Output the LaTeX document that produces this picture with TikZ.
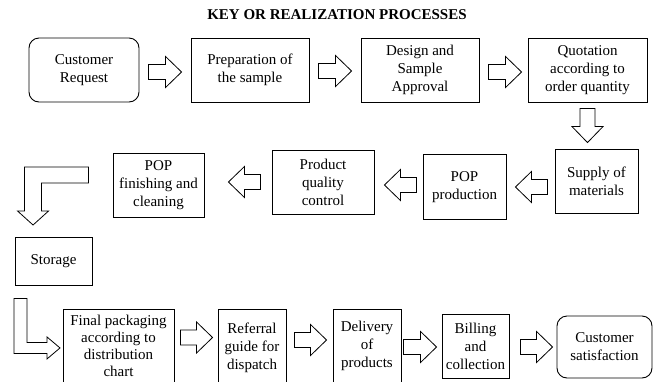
\documentclass[tikz,border=0pt]{standalone}
\usepackage{fontspec}
\setmainfont{Liberation Serif}
\usetikzlibrary{positioning,calc}

\begin{document}
\begin{tikzpicture}[x=1pt, y=1pt,
        box/.style={draw, rectangle, line width=0.9pt, align=center, inner sep=2pt, font=\fontsize{15}{18}\selectfont},
        endbox/.style={box, rounded corners=10pt},
        fatline/.style={draw, line width=0.8pt, line join=miter},
        fat/.style={fatline, to path={let \p1=(\tikztostart), \p2=(\tikztotarget), \p3=($(\p2)-(\p1)$),
            \n1={atan2(\y3,\x3)} in
            ($(\p1)+({\n1+90}:7.5pt)$)
            -- ($(\p2)+({\n1+180}:16pt)+({\n1+90}:7.5pt)$)
            -- ($(\p2)+({\n1+180}:16pt)+({\n1+90}:15.5pt)$)
            -- (\p2)
            -- ($(\p2)+({\n1+180}:16pt)+({\n1-90}:15.5pt)$)
            -- ($(\p2)+({\n1+180}:16pt)+({\n1-90}:7.5pt)$)
            -- ($(\p1)+({\n1-90}:7.5pt)$) -- cycle}}
    ]
        \useasboundingbox (0,0) rectangle (657,-381);
        \clip (0,0) rectangle (657,-381);

        \node [font=\fontsize{15}{18}\selectfont\bfseries] (title) at (337,-15) {KEY OR REALIZATION PROCESSES};

        \node [endbox, minimum width=110pt, minimum height=64pt] (req) at (84,-70) {Customer\\Request};
        \node [box, minimum width=118pt, minimum height=64pt] (prep) at (250,-70) {Preparation of\\the sample};
        \node [box, minimum width=118pt, minimum height=64pt] (design) at (420,-70) {Design and\\Sample\\Approval};
        \node [box, minimum width=119pt, minimum height=64pt] (quote) at (587.5,-70) {Quotation\\according to\\order quantity};
        \node [box, minimum width=83pt, minimum height=64pt] (supply) at (596.5,-181) {Supply of\\materials};
        \node [box, minimum width=83pt, minimum height=65pt] (popprod) at (464.5,-187) {POP\\production};
        \node [box, minimum width=102pt, minimum height=64pt] (quality) at (323,-182) {Product\\quality\\control};
        \node [box, minimum width=91pt, minimum height=64pt] (finish) at (158.5,-185) {POP\\finishing and\\cleaning};
        \node [box, minimum width=77pt, minimum height=48pt] (storage) at (53.5,-261) {Storage};
        \node [box, font=\fontsize{15}{17.2}\selectfont, minimum width=111pt, minimum height=74pt] (pack) at (118.5,-346) {Final packaging\\according to\\distribution\\chart};
        \node [box, minimum width=68pt, minimum height=78pt] (referral) at (252,-348) {Referral\\guide for\\dispatch};
        \node [box, minimum width=68pt, minimum height=74pt] (delivery) at (367,-346) {Delivery\\of\\products};
        \node [box, minimum width=67pt, minimum height=64pt] (billing) at (475.5,-346) {Billing\\and\\collection};
        \node [endbox, minimum width=95pt, minimum height=62pt] (satisf) at (604.5,-347) {Customer\\satisfaction};

        \draw [fat] ($(req.east)+(9,-2)$) to ($(prep.west)+(-9,-2)$);
        \draw [fat] ($(prep.east)+(9,-1)$) to ($(design.west)+(-9,-1)$);
        \draw [fat] ($(design.east)+(9,-2)$) to ($(quote.west)+(-6,-2)$);
        \draw [fat] ($(quote.south)+(0,-6)$) to ($(quote.south |- supply.north)+(0,6)$);
        \draw [fat] ($(supply.west)+(-7,-6)$) to ($(popprod.east)+(9,0)$);
        \draw [fat] ($(popprod.west)+(-6,2)$) to ($(quality.east)+(10,-3)$);
        \draw [fat] ($(quality.west)+(-11,0)$) to ($(finish.east)+(24,3)$);
        \draw [fatline] ($(finish.west)+(-24,18)$) -- ++(-64,0) -- ++(0,-44) -- ++(-7,0) -- ++(15.5,-14)
            -- ++(15.5,14) -- ++(-7,0) -- ++(0,28) -- ++(47,0) -- cycle;
        \draw [fatline] ($(storage.south)+(-39.5,-13)$) -- ++(0,-55) -- ++(33,0) -- ++(0,-5.5) -- ++(13,11)
            -- ++(-13,11) -- ++(0,-5.5) -- ++(-20,0) -- ++(0,44) -- cycle;
        \draw [fat] ($(pack.east)+(6,8.5)$) to ($(referral.west)+(-5,10.5)$);
        \draw [fat] ($(referral.east)+(8,8)$) to ($(delivery.west)+(-6,6)$);
        \draw [fat] ($(delivery.east)+(2,-1)$) to ($(billing.west)+(-5,-1)$);
        \draw [fat] ($(billing.east)+(11,-1)$) to ($(satisf.west)+(-4,0)$);
    \end{tikzpicture}
\end{document}
